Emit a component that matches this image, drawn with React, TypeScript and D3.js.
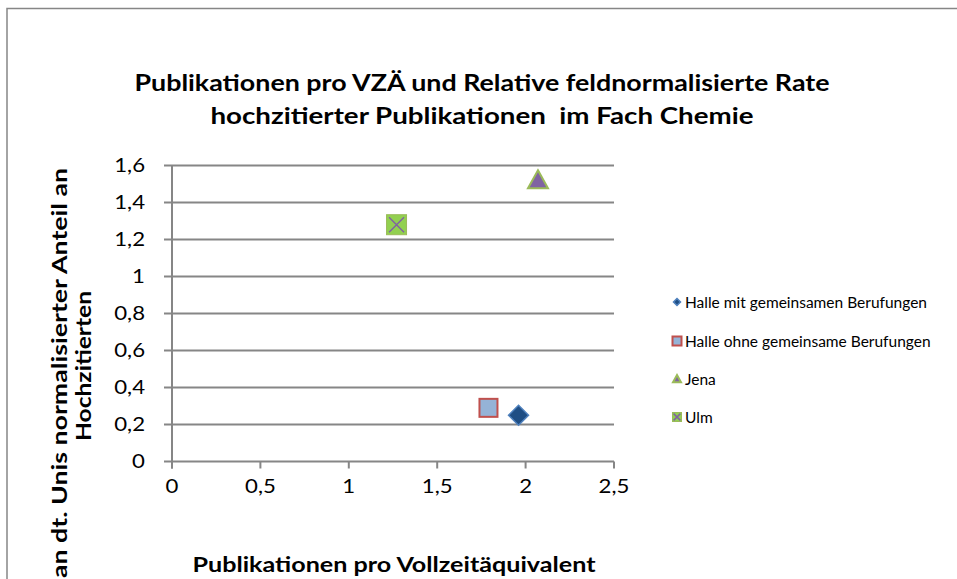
import React from "react";
import * as d3 from "d3";

const seriesNames = [
  "Halle mit gemeinsamen Berufungen",
  "Halle ohne gemeinsame Berufungen",
  "Jena",
  "Ulm",
];
const xValues = [1.96, 1.79, 2.07, 1.27];
const yValues = [0.25, 0.29, 1.52, 1.28];
const xTicks = [0, 0.5, 1, 1.5, 2, 2.5];
const yTicks = [0, 0.2, 0.4, 0.6, 0.8, 1, 1.2, 1.4, 1.6];

const W = 957;
const H = 579;
const left = 172;
const right = 614;
const top = 165.5;
const bottom = 461.5;
const font = "Lato, 'Open Sans', sans-serif";
const grid = "#868686";

const fmt = (v: number) => String(v).replace(".", ",");

function Marker({ i, x, y, s }: { i: number; x: number; y: number; s: number }) {
  const h = s / 2;
  if (i === 0) {
    return (
      <path
        d={`M${x},${y - h}L${x + h},${y}L${x},${y + h}L${x - h},${y}Z`}
        fill="#1F4E84"
        stroke="#4F81BD"
        strokeWidth={1.5}
      />
    );
  }
  if (i === 1) {
    return (
      <rect x={x - h} y={y - h} width={s} height={s} fill="#95B3D7" stroke="#C0504D" strokeWidth={2} />
    );
  }
  if (i === 2) {
    return (
      <path
        d={`M${x},${y - h}L${x + h},${y + h * 0.8}L${x - h},${y + h * 0.8}Z`}
        fill="#8064A2"
        stroke="#9BBB59"
        strokeWidth={2}
        strokeLinejoin="miter"
      />
    );
  }
  const k = h * 0.75;
  return (
    <g>
      <rect x={x - h} y={y - h} width={s} height={s} fill="#92D050" stroke="#9BBB59" strokeWidth={1} />
      <path
        d={`M${x - k},${y - k}L${x + k},${y + k}M${x + k},${y - k}L${x - k},${y + k}`}
        stroke="#8064A2"
        strokeWidth={1.5}
      />
    </g>
  );
}

export default function App() {
  const xs = d3.scaleLinear().domain([0, 2.5]).range([left, right]);
  const ys = d3.scaleLinear().domain([0, 1.6]).range([bottom, top]);
  const legendY = [302, 341, 379, 417];
  return (
    <svg
      width={W}
      height={H}
      style={{ position: "absolute", left: 0, top: 0, background: "#fff" }}
      fontFamily={font}
    >
      <rect x={7} y={8.5} width={W + 20} height={H + 20} fill="#fff" stroke={grid} strokeWidth={1.5} />
      <text x={482} y={91} textAnchor="middle" fontSize={23} fontWeight="bold" fill="#000" textLength={695} lengthAdjust="spacingAndGlyphs">
        Publikationen pro VZÄ und Relative feldnormalisierte Rate
      </text>
      <text x={482} y={124} textAnchor="middle" fontSize={23} fontWeight="bold" fill="#000" style={{ whiteSpace: "pre" }} textLength={543} lengthAdjust="spacingAndGlyphs">
        {"hochzitierter Publikationen  im Fach Chemie"}
      </text>
      {yTicks.map((t) => (
        <g key={"y" + t}>
          <line x1={left - 8} x2={right} y1={ys(t)} y2={ys(t)} stroke={grid} strokeWidth={2} />
          <text
            transform={`translate(${left - 27},${ys(t) + 6.5}) scale(1.2,1)`}
            textAnchor="end"
            fontSize={18.5}
            fill="#000"
          >
            {fmt(t)}
          </text>
        </g>
      ))}
      <line x1={left} x2={left} y1={top} y2={bottom + 7} stroke={grid} strokeWidth={2} />
      {xTicks.map((t) => (
        <g key={"x" + t}>
          <line x1={xs(t)} x2={xs(t)} y1={bottom} y2={bottom + 7} stroke={grid} strokeWidth={2} />
          <text
            transform={`translate(${xs(t)},${bottom + 31}) scale(1.2,1)`}
            textAnchor="middle"
            fontSize={18.5}
            fill="#000"
          >
            {fmt(t)}
          </text>
        </g>
      ))}
      <text x={394} y={572} textAnchor="middle" fontSize={20} fontWeight="bold" fill="#000" textLength={403} lengthAdjust="spacingAndGlyphs">
        Publikationen pro Vollzeitäquivalent
      </text>
      <text
        transform={`translate(67,373) rotate(-90)`}
        textAnchor="middle"
        fontSize={20}
        fontWeight="bold"
        fill="#000"
        textLength={410}
        lengthAdjust="spacingAndGlyphs"
      >
        an dt. Unis normalisierter Anteil an
      </text>
      <text
        transform={`translate(91,366) rotate(-90)`}
        textAnchor="middle"
        fontSize={20}
        fontWeight="bold"
        fill="#000"
        textLength={150}
        lengthAdjust="spacingAndGlyphs"
      >
        Hochzitierten
      </text>
      {seriesNames.map((n, i) => (
        <Marker key={n} i={i} x={xs(xValues[i])} y={ys(yValues[i])} s={i === 1 ? 18 : 20} />
      ))}
      {seriesNames.map((n, i) => (
        <g key={"l" + n}>
          <Marker i={i} x={677} y={legendY[i]} s={i === 0 ? 7 : i === 2 ? 8 : 9} />
          <text x={685} y={legendY[i] + 5.5} fontSize={15.5} fill="#000">
            {n}
          </text>
        </g>
      ))}
    </svg>
  );
}
